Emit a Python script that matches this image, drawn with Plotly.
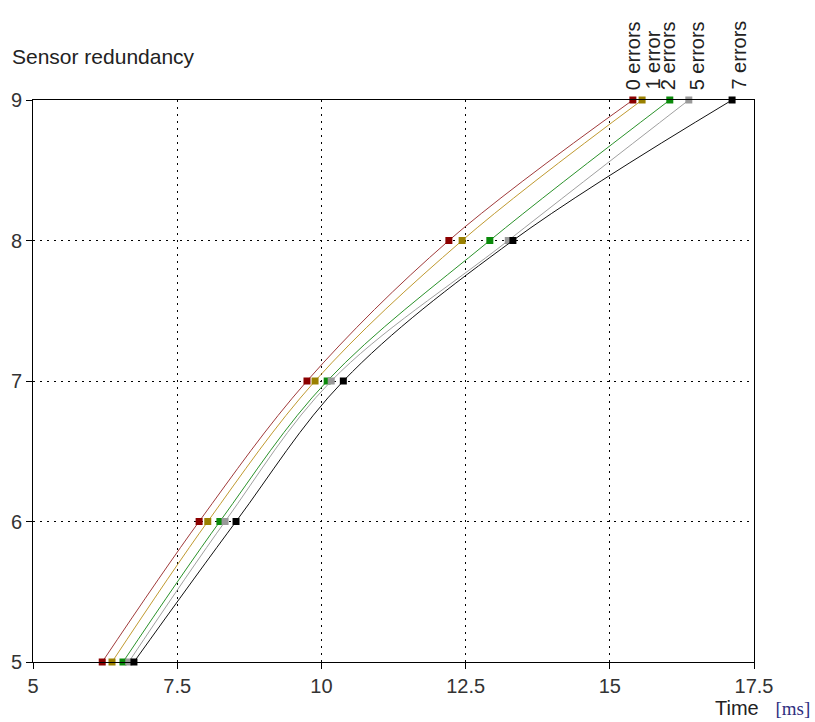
import plotly.graph_objects as go

levels = [5, 6, 7, 8, 9]
series_names = ["0 errors", "1 error", "2 errors", "5 errors", "7 errors"]
t_0 = [6.20, 7.88, 9.75, 12.21, 15.40]
t_1 = [6.37, 8.03, 9.89, 12.44, 15.56]
t_2 = [6.56, 8.24, 10.10, 12.92, 16.04]
t_5 = [6.66, 8.33, 10.17, 13.24, 16.37]
t_7 = [6.75, 8.52, 10.38, 13.32, 17.12]
series_values = [t_0, t_1, t_2, t_5, t_7]
line_colors = ["#a03a3a", "#c09a30", "#2a922a", "#a0a0a0", "#111111"]
marker_colors = ["#8b0000", "#9a8000", "#0a8a0a", "#999999", "#000000"]
label_shift = [0, 10, -2, 8, 6]
x_ticks = [5, 7.5, 10, 12.5, 15, 17.5]
y_ticks = [5, 6, 7, 8, 9]

fig = go.Figure()
for name, xs, lc, mc in zip(series_names, series_values, line_colors, marker_colors):
    fig.add_trace(go.Scatter(
        x=xs, y=levels, mode="lines+markers", name=name,
        line=dict(color=lc, width=1, shape="spline", smoothing=1.0),
        marker=dict(symbol="square", size=7, color=mc),
        showlegend=False, cliponaxis=False,
    ))

for name, xs, sh in zip(series_names, series_values, label_shift):
    fig.add_annotation(
        x=xs[-1], y=9, xref="x", yref="y", text=name, textangle=-90,
        showarrow=False, xanchor="center", yanchor="bottom", yshift=8, xshift=sh,
        font=dict(family="Liberation Sans, Arial", size=20, color="#222"),
    )

fig.add_annotation(x=-0.032, y=1.077, xref="paper", yref="paper", text="Sensor redundancy",
                   showarrow=False, xanchor="left", yanchor="middle",
                   font=dict(family="Liberation Sans, Arial", size=21, color="#222"))

fig.add_annotation(x=1.080, y=-0.081, xref="paper", yref="paper",
                   text="Time&nbsp;&nbsp;&nbsp;<span style='font-family:Liberation Serif, Times New Roman; color:#2f2f80; font-size:19px'>[ms]</span>",
                   showarrow=False, xanchor="right", yanchor="middle",
                   font=dict(family="Liberation Sans, Arial", size=20, color="#222"))

fig.update_layout(
    width=815, height=722,
    margin=dict(l=33, r=61, t=100, b=60),
    plot_bgcolor="white", paper_bgcolor="white",
    font=dict(family="Liberation Sans, Arial", size=20, color="#333"),
)
fig.update_xaxes(range=[5, 17.5], tickvals=x_ticks, ticktext=[str(v) for v in x_ticks],
                 showgrid=True, gridcolor="#000", griddash="2px,5px", gridwidth=1,
                 showline=True, linecolor="#000", linewidth=1, mirror=True,
                 ticks="outside", ticklen=6, tickcolor="#000", zeroline=False)
fig.update_yaxes(range=[5, 9], tickvals=y_ticks,
                 showgrid=True, gridcolor="#000", griddash="2px,5px", gridwidth=1,
                 showline=True, linecolor="#000", linewidth=1, mirror=True,
                 ticks="outside", ticklen=6, tickcolor="#000", zeroline=False)

fig.write_html("out.html")
